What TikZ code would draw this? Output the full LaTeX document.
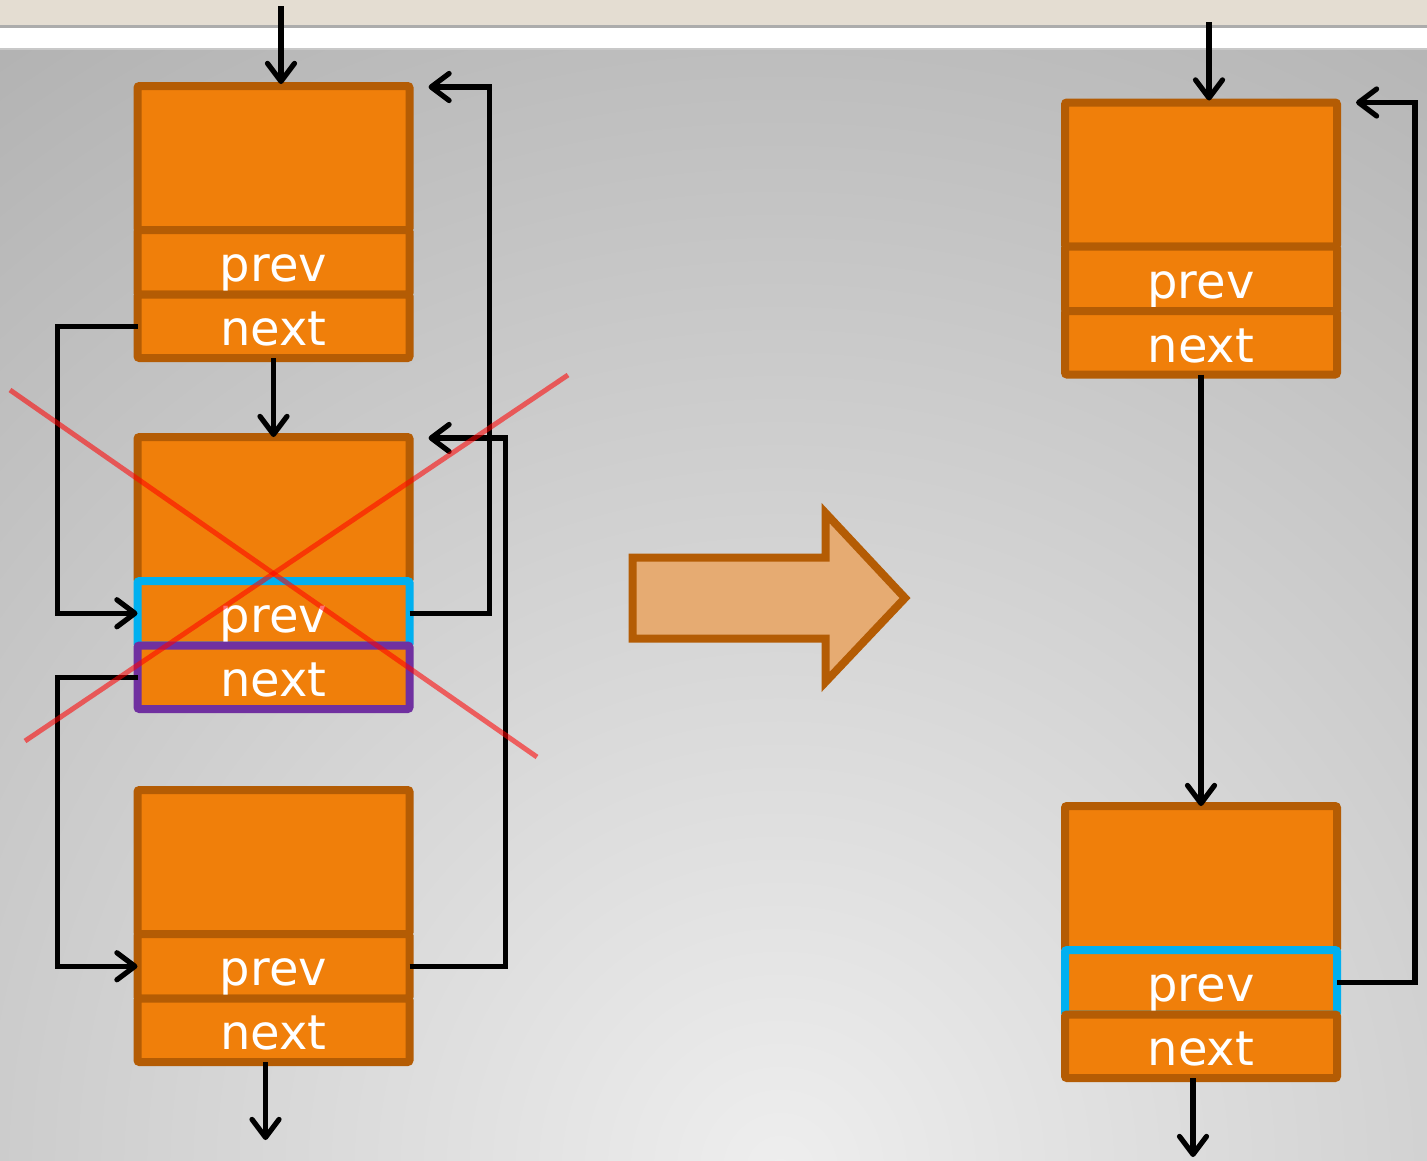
\documentclass[tikz,border=0pt]{standalone}
\usepackage{fontspec}
\setmainfont{DejaVu Sans}
\usetikzlibrary{arrows.meta,calc}

\definecolor{boxorange}{RGB}{240,127,10}
\definecolor{boxbrown}{RGB}{180,92,4}
\definecolor{selcyan}{RGB}{0,176,240}
\definecolor{selpurple}{RGB}{112,48,160}
\definecolor{bigarrowfill}{RGB}{230,171,114}
\definecolor{stripbeige}{RGB}{228,221,210}
\definecolor{stripline}{RGB}{172,172,172}
\definecolor{stripedge}{RGB}{200,200,200}
\definecolor{bginner}{RGB}{238,238,238}
\definecolor{bgouter}{RGB}{162,162,162}

\begin{document}
\begin{tikzpicture}[x=1pt,y=-1pt,
  cell/.style={draw=boxbrown, fill=boxorange, line width=8pt, rounded corners=2pt,
    minimum width=272pt, inner sep=0pt, outer sep=0pt, anchor=north west,
    text=white, font=\fontsize{48}{56}\selectfont, text height=39pt, text depth=0pt},
  datacell/.style={cell, minimum height=144pt},
  prevcell/.style={cell, minimum height=64.5pt},
  nextcell/.style={cell, minimum height=63.5pt},
  link/.style={draw=black, line width=5.2pt, line join=miter,
    -{Straight Barb[length=18pt,width=27pt,round]}},
  cross/.style={draw=red, draw opacity=0.56, line width=5pt},
  bigarrow/.style={draw=boxbrown, fill=bigarrowfill, line width=8pt, line join=miter}
]
\useasboundingbox (0,0) rectangle (1427,1160);

% backdrop: title strip and shaded slide area
\begin{scope}
  \clip (0,49.5) rectangle (1427,1160);
  \shade[inner color=bginner, outer color=bgouter] (780,1170) circle (1750);
\end{scope}
\fill[stripbeige] (0,0) rectangle (1427,25);
\fill[stripline] (0,25) rectangle (1427,28);
\fill[white] (0,28) rectangle (1427,48);
\fill[stripedge] (0,48) rectangle (1427,49.5);

% left list: three nodes
\node[datacell] (b1d) at (137.5,86) {};
\node[prevcell] (b1p) at (137.5,230) {prev};
\node[nextcell] (b1n) at (137.5,294.5) {next};

\node[datacell] (b2d) at (137.5,437) {};
\node[prevcell, draw=selcyan] (b2p) at (137.5,581) {prev};
\node[nextcell, draw=selpurple] (b2n) at (137.5,645.5) {next};

\node[datacell] (b3d) at (137.5,790) {};
\node[prevcell] (b3p) at (137.5,934) {prev};
\node[nextcell] (b3n) at (137.5,998.5) {next};

% right list: two nodes after removal
\node[datacell] (bAd) at (1065,102.5) {};
\node[prevcell] (bAp) at (1065,246.5) {prev};
\node[nextcell] (bAn) at (1065,311) {next};

\node[datacell] (bBd) at (1065,806) {};
\node[prevcell, draw=selcyan] (bBp) at (1065,950) {prev};
\node[nextcell] (bBn) at (1065,1014.5) {next};

% free ends of the outer links
\coordinate (inL) at (281,6);
\coordinate (outL) at (265.5,1140);
\coordinate (inR) at (1209,22);
\coordinate (outR) at (1193,1157);

% links of the left list
\draw[link, shorten >=2pt] (inL) -- (inL |- b1d.north);
\draw[link] (b1n.west) -- ++(-80,0) |- (b2p.west);
\draw[link] (b1n.south) -- (b2d.north);
\draw[link] (b2p.east) -- ++(80,0) |- ($(b1d.north east)+(19,1)$);
\draw[link] (b2n.west) -- ++(-80,0) |- (b3p.west);
\draw[link] (b3p.east) -- ++(96,0) |- ($(b2d.north east)+(19,1)$);
\draw[link] (outL |- b3n.south) -- (outL);

% links of the right list
\draw[link, shorten >=2pt] (inR) -- (inR |- bAd.north);
\draw[link] (bAn.south) -- (bBd.north);
\draw[link] (bBp.east) -- ++(78,0) |- ($(bAd.north east)+(19,0)$);
\draw[link] (outR |- bBn.south) -- (outR);

% transition arrow
\draw[bigarrow] (632.5,557.5) -- (825.5,557.5) -- (825.5,513) -- (905,598)
  -- (825.5,682) -- (825.5,638.5) -- (632.5,638.5) -- cycle;

% the removed node is crossed out
\draw[cross] (10,390) -- (537,757);
\draw[cross] (25,741) -- (568,375);
\end{tikzpicture}
\end{document}
